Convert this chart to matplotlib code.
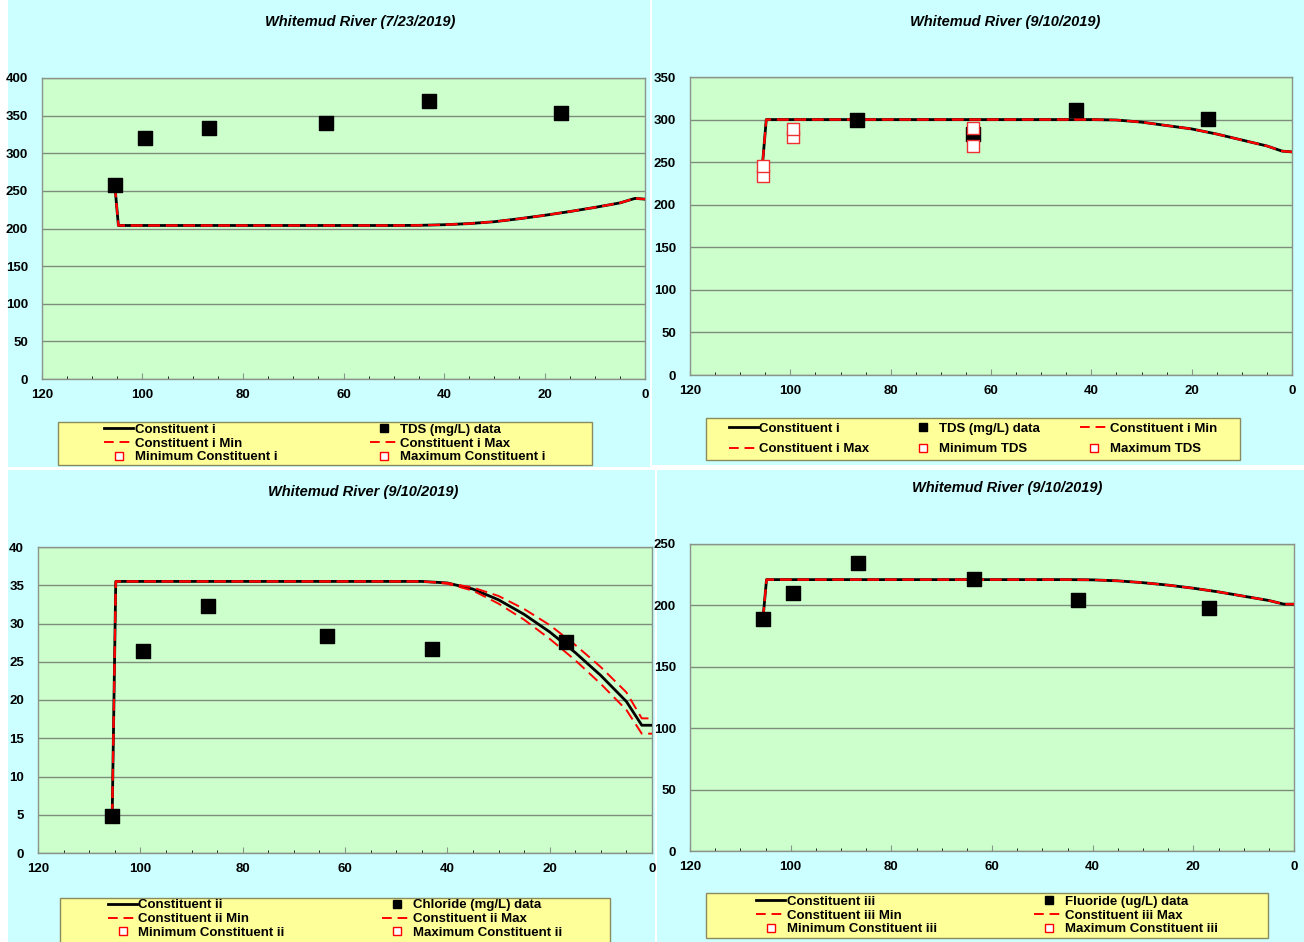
import matplotlib
matplotlib.use("Agg")
import matplotlib.pyplot as plt
from matplotlib.lines import Line2D
from matplotlib.patches import Rectangle
from matplotlib.ticker import MultipleLocator

plt.rcParams["font.family"] = ["Liberation Sans", "DejaVu Sans"]
plt.rcParams["font.weight"] = "bold"

W, H = 1304, 942

# sample distances (km upstream of mouth)
site_km = [105.5, 99.5, 86.7, 63.5, 43.0, 16.8]

# model profile distances
model_km = [105.5, 104.8, 100, 90, 80, 70, 60, 50, 45, 40, 35, 30, 25, 20, 15, 10, 5, 2, 0]

# panel 1: TDS 7/23/2019
tds_jul = [257.5, 320, 334, 340, 370, 353]
tds_jul_model = [257, 204, 204, 204, 204, 204, 204, 204, 204.2, 205, 206.5, 209, 213, 217.5, 222.5, 228, 234, 240, 239]

# panel 2: TDS 9/10/2019
tds_sep_km = [86.7, 63.5, 43.0, 16.8]
tds_sep = [299, 283.5, 311, 301]
tds_sep_min_km = [105.5, 99.5, 63.5]
tds_sep_min = [234, 280, 269]
tds_sep_max = [245.5, 289, 290]
tds_sep_model = [251, 300, 300, 300, 300, 300, 300, 300, 300, 300, 299.5, 297, 293, 289, 283, 276, 269, 263, 262]

# panel 3: chloride 9/10/2019
cl_sep = [4.9, 26.4, 32.3, 28.4, 26.7, 27.6]
cl_model = [4.9, 35.5, 35.5, 35.5, 35.5, 35.5, 35.5, 35.5, 35.5, 35.3, 34.5, 33.1, 31.2, 28.9, 26.2, 23.2, 19.8, 16.7, 16.7]
cl_model_max = [4.9, 35.5, 35.5, 35.5, 35.5, 35.5, 35.5, 35.5, 35.5, 35.3, 34.7, 33.6, 31.9, 29.8, 27.2, 24.3, 21.0, 17.6, 17.6]
cl_model_min = [4.9, 35.5, 35.5, 35.5, 35.5, 35.5, 35.5, 35.5, 35.5, 35.2, 34.3, 32.6, 30.5, 28.0, 25.2, 22.1, 18.7, 15.6, 15.6]

# panel 4: fluoride 9/10/2019
f_sep = [189.3, 210.5, 234.2, 221.7, 204.2, 198.2]
f_model = [189.3, 221, 221, 221, 221, 221, 221, 221, 221, 220.8, 220, 218.5, 216.5, 214, 211, 207.5, 204, 201, 201]

BG = "#CCFFFF"
PLOT_BG = "#CCFFCC"
LEG_BG = "#FFFF99"
GRID = "#7d8c7d"
FS = 9.5


def fx(px):
    return px / W


def fy(py):
    return 1 - py / H


fig = plt.figure(figsize=(W / 100, H / 100), dpi=100, facecolor="white")


def box_patch(x0, y0, x1, y1, face, edge="none"):
    fig.patches.append(Rectangle((fx(x0), fy(y1)), fx(x1 - x0), (y1 - y0) / H,
                                 transform=fig.transFigure, facecolor=face, edgecolor=edge,
                                 linewidth=1.0, zorder=-10))


# chart area backgrounds (x0, y0, x1, y1 in pixels)
for b in [(8, 0, 650, 467), (652, 0, 1304, 465), (8, 470, 655, 942), (657, 470, 1304, 942)]:
    box_patch(*b, BG)


def make_axes(box, ymax, ystep):
    left, top, right, bottom = box
    ax = fig.add_axes([fx(left), fy(bottom), fx(right - left), (bottom - top) / H])
    ax.set_facecolor(PLOT_BG)
    ax.set_xlim(120, 0)
    ax.set_ylim(0, ymax)
    ax.xaxis.set_major_locator(MultipleLocator(20))
    ax.xaxis.set_minor_locator(MultipleLocator(5))
    ax.yaxis.set_major_locator(MultipleLocator(ystep))
    ax.grid(axis="y", color=GRID, linewidth=1.0)
    ax.set_axisbelow(True)
    for s in ax.spines.values():
        s.set_color("#8a948a")
        s.set_linewidth(1.0)
    ax.tick_params(axis="both", labelsize=FS, colors="#8a948a", labelcolor="black", width=0.8)
    ax.tick_params(axis="x", which="major", length=4, direction="in", pad=7)
    ax.tick_params(axis="x", which="minor", length=2.5, direction="in")
    ax.tick_params(axis="y", length=0, pad=10)
    for lab in ax.get_xticklabels() + ax.get_yticklabels():
        lab.set_fontweight("bold")
    return ax


def title(cx, cy, text):
    fig.text(fx(cx), fy(cy), text, ha="center", va="center", fontsize=10.5,
             fontweight="bold", style="italic")


def model_lines(ax, model, mn, mx):
    ax.plot(model_km, model, color="black", lw=2.0, zorder=3)
    ax.plot(model_km, mn, color="red", lw=1.4, dashes=(6, 3), zorder=4)
    ax.plot(model_km, mx, color="red", lw=1.4, dashes=(6, 3), zorder=4)


def add_legend(ax, handles, labels, box, ncol, colspace, rowspace, cy=None):
    left, top, right, bottom = box
    box_patch(left, top, right, bottom, LEG_BG, "#8a8a60")
    if cy is None:
        cy = (top + bottom) / 2
    leg = ax.legend(handles, labels, ncol=ncol, loc="center",
                    bbox_to_anchor=(fx((left + right) / 2), fy(cy)),
                    bbox_transform=fig.transFigure, frameon=False,
                    handlelength=2.2, handletextpad=0.1, labelspacing=rowspace,
                    borderpad=0, columnspacing=colspace,
                    prop={"weight": "bold", "size": FS})
    return leg


line_h = Line2D([], [], color="black", lw=2.0)
min_h = Line2D([], [], color="red", lw=1.4, dashes=(5, 3))
max_h = Line2D([], [], color="red", lw=1.4, dashes=(5, 3))
data_h = Line2D([], [], color="black", marker="s", ls="none", markersize=6)
open_h = Line2D([], [], color="red", marker="s", ls="none", markersize=6,
                markerfacecolor="white", markeredgewidth=1.0)

# ---- panel 1
ax1 = make_axes((42, 78, 645, 379), 400, 50)
model_lines(ax1, tds_jul_model, tds_jul_model, tds_jul_model)
ax1.scatter(site_km, tds_jul, marker="s", s=95, color="black", zorder=5)
title(360, 22, "Whitemud River (7/23/2019)")
add_legend(ax1, [line_h, min_h, open_h, data_h, max_h, open_h],
           ["Constituent i", "Constituent i Min", "Minimum Constituent i",
            "TDS (mg/L) data", "Constituent i Max", "Maximum Constituent i"],
           (58, 422, 592, 465), 2, 7.0, 0.12)

# ---- panel 2
ax2 = make_axes((690, 77, 1292, 375), 350, 50)
model_lines(ax2, tds_sep_model, tds_sep_model, tds_sep_model)
ax2.scatter(tds_sep_km, tds_sep, marker="s", s=95, color="black", zorder=5)
ax2.scatter(tds_sep_min_km, tds_sep_min, marker="s", s=75, facecolor="white",
            edgecolor="#ee3030", linewidth=1.0, zorder=6)
ax2.scatter(tds_sep_min_km, tds_sep_max, marker="s", s=75, facecolor="white",
            edgecolor="#ee3030", linewidth=1.0, zorder=6)
title(1005, 22, "Whitemud River (9/10/2019)")
add_legend(ax2, [line_h, max_h, data_h, open_h, min_h, open_h],
           ["Constituent i", "Constituent i Max", "TDS (mg/L) data", "Minimum TDS",
            "Constituent i Min", "Maximum TDS"],
           (706, 418, 1240, 460), 3, 3.0, 0.6)

# ---- panel 3
ax3 = make_axes((38, 547, 652, 853), 40, 5)
model_lines(ax3, cl_model, cl_model_min, cl_model_max)
ax3.scatter(site_km, cl_sep, marker="s", s=95, color="black", zorder=5)
title(363, 492, "Whitemud River (9/10/2019)")
add_legend(ax3, [line_h, min_h, open_h, data_h, max_h, open_h],
           ["Constituent ii", "Constituent ii Min", "Minimum Constituent ii",
            "Chloride (mg/L) data", "Constituent ii Max", "Maximum Constituent ii"],
           (60, 898, 610, 948), 2, 7.4, 0.12, cy=919)

# ---- panel 4
ax4 = make_axes((690, 544, 1294, 851), 250, 50)
model_lines(ax4, f_model, f_model, f_model)
ax4.scatter(site_km, f_sep, marker="s", s=95, color="black", zorder=5)
title(1007, 488, "Whitemud River (9/10/2019)")
add_legend(ax4, [line_h, min_h, open_h, data_h, max_h, open_h],
           ["Constituent iii", "Constituent iii Min", "Minimum Constituent iii",
            "Fluoride (ug/L) data", "Constituent iii Max", "Maximum Constituent iii"],
           (706, 893, 1268, 938), 2, 7.4, 0.12)

fig.savefig("out.png", dpi=100, facecolor=fig.get_facecolor())
